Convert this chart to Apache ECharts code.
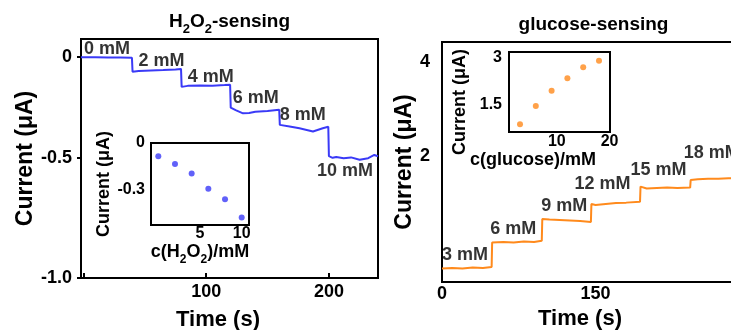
<!DOCTYPE html>
<html>
<head>
<meta charset="utf-8">
<script src="https://cdn.jsdelivr.net/npm/echarts@6/dist/echarts.min.js"></script>
<style>
  html, body { margin: 0; padding: 0; background: #fff; }
  #chart { width: 731px; height: 330px; }
</style>
</head>
<body>
<div id="chart"></div>
<script>
// H2O2 trace (time s, current uA)
const h2o2Time = [-2, 10, 20, 30, 39.5, 40, 45, 55, 65, 75, 79.5, 80, 85, 95, 105, 115, 119.5,
  120, 124, 130, 135, 140, 150, 159.5, 160, 168, 176, 187, 195, 199.5,
  200, 203, 206, 212, 218, 225, 232, 237, 240];
const h2o2Current = [0, 0, -0.001, -0.002, -0.003, -0.072, -0.068, -0.066, -0.064, -0.061, -0.058,
  -0.147, -0.142, -0.140, -0.141, -0.138, -0.136,
  -0.25, -0.262, -0.278, -0.276, -0.27, -0.266, -0.26,
  -0.335, -0.343, -0.352, -0.368, -0.352, -0.344,
  -0.49, -0.498, -0.494, -0.5, -0.496, -0.508, -0.5, -0.484, -0.49];
const h2o2Conc = [0, 2, 4, 6, 8, 10];
const h2o2StepTime = [-2, 40, 80, 120, 160, 200];
const h2o2StepLevel = [0, -0.072, -0.147, -0.25, -0.335, -0.49];
const h2o2InsetCurrent = [-0.085, -0.135, -0.197, -0.296, -0.364, -0.482];

// glucose trace
const gluTime = [0, 10, 20, 30, 40, 48.5, 49, 60, 70, 80, 90, 97.5, 98, 105, 115, 125, 135, 145.5,
  146, 150, 160, 170, 180, 193.5, 194, 200, 210, 220, 230, 242.5, 243, 250, 260, 270, 280, 290, 300];
const gluCurrent = [-0.39, -0.38, -0.39, -0.37, -0.38, -0.36, 0.16, 0.17, 0.16, 0.18, 0.17, 0.2,
  0.66, 0.65, 0.64, 0.63, 0.62, 0.6, 0.98, 0.96, 0.98, 1.0, 1.01, 1.03,
  1.35, 1.31, 1.32, 1.33, 1.32, 1.33, 1.49, 1.51, 1.52, 1.52, 1.53, 1.53, 1.54];
const gluConc = [3, 6, 9, 12, 15, 18];
const gluStepTime = [0, 49, 98, 146, 194, 243];
const gluStepLevel = [-0.39, 0.16, 0.66, 0.98, 1.35, 1.49];
const gluInsetCurrent = [0.86, 1.45, 1.93, 2.33, 2.68, 2.89];

// tick labels
const leftYTicks = [-1.093, -0.5, 0];
const leftYTickText = ['-1.0', '-0.5', '0'];
const leftXTicks = [0, 100, 200];
const leftXLabels = [100, 200];
const rightYLabels = [2, 4];
const rightXLabels = [0, 150];
const h2o2InsetYLabels = [-0.3, 0];
const h2o2InsetXLabels = [5, 10];
const gluInsetYLabels = [1.5, 3];
const gluInsetXLabels = [10, 20];

const BLUE = '#3a3af7';
const ORANGE = '#ff8a1c';
const FONT = "'Liberation Sans', Arial, sans-serif";

const zip = (a, b) => a.map((v, i) => [v, b[i]]);

// pixel offsets of the "x mM" tags from each step corner
const h2o2TagOffset = [[3, -8], [6, -11], [6, -10], [2, -10], [0, -10], [-12, 15]];
const gluTagOffset = [[0, -13], [-2, -14], [-1, -13], [-17, -20], [-10, -17], [-7, -27]];

const tagData = (times, levels, conc, offs) => times.map((t, i) => ({
  value: [t, levels[i]],
  name: conc[i] + ' mM',
  label: { position: offs[i] }
}));

const gridBox = { show: true, borderColor: '#000', borderWidth: 2, backgroundColor: 'transparent', outerBoundsMode: 'none', containLabel: false };
const tickFont = { color: '#000', fontFamily: FONT, fontWeight: 'bold', fontSize: 18 };
const insetFont = { color: '#000', fontFamily: FONT, fontWeight: 'bold', fontSize: 16 };
const nameFont = { color: '#000', fontFamily: FONT, fontWeight: 'bold', fontSize: 22 };
const insetNameFont = { color: '#000', fontFamily: FONT, fontWeight: 'bold', fontSize: 18 };
const tagFont = { color: '#000', fontFamily: FONT, fontWeight: 'bold', fontSize: 18, textBorderWidth: 0 };
const subRich = (size, sub) => ({
  n: { fontFamily: FONT, fontWeight: 'bold', fontSize: size, lineHeight: size + 1, verticalAlign: 'top', color: '#000' },
  s: { fontFamily: FONT, fontWeight: 'bold', fontSize: sub, lineHeight: size + 5, verticalAlign: 'bottom', color: '#000' }
});
const plainAxis = { axisLine: { show: false, onZero: false }, splitLine: { show: false } };

const chart = echarts.init(document.getElementById('chart'));

const option = {
  animation: false,
  backgroundColor: '#fff',
  title: [
    {
      text: '{n|H}{s|2}{n|O}{s|2}{n|-sensing}',
      left: 229.5, top: 12, textAlign: 'center', padding: 0,
      textStyle: { rich: subRich(19, 13) }
    },
    {
      text: 'glucose-sensing',
      left: 593.5, top: 15, textAlign: 'center', padding: 0,
      textStyle: { fontFamily: FONT, fontWeight: 'bold', fontSize: 19, lineHeight: 20, color: '#000' }
    }
  ],
  grid: [
    { left: 81, top: 39, width: 297, height: 239, ...gridBox },
    { left: 151, top: 143, width: 98, height: 82, ...gridBox, backgroundColor: '#fff' },
    { left: 442, top: 42, width: 307, height: 240, ...gridBox },
    { left: 509, top: 52, width: 101, height: 80, ...gridBox, backgroundColor: '#fff' }
  ],
  xAxis: [
    {
      gridIndex: 0, type: 'value', min: -2, max: 240, ...plainAxis,
      axisTick: { show: true, inside: true, length: 5, customValues: leftXTicks, lineStyle: { color: '#000', width: 2 } },
      axisLabel: { customValues: leftXLabels, margin: 5, ...tickFont },
      name: 'Time (s)', nameLocation: 'middle', nameGap: 31,
      nameTextStyle: { ...nameFont, padding: [0, 23, 0, 0] }
    },
    {
      gridIndex: 1, type: 'value', min: -0.875, max: 10.875, ...plainAxis, axisTick: { show: false },
      axisLabel: { customValues: h2o2InsetXLabels, margin: 1, ...insetFont },
      name: '{n|c(H}{s|2}{n|O}{s|2}{n|)/mM}', nameLocation: 'middle', nameGap: 17,
      nameTextStyle: { rich: subRich(18, 12) }
    },
    {
      gridIndex: 2, type: 'value', min: 0, max: 300, ...plainAxis, axisTick: { show: false },
      axisLabel: { customValues: rightXLabels, margin: 3, alignMinLabel: 'center', ...tickFont },
      name: 'Time (s)', nameLocation: 'middle', nameGap: 16,
      nameTextStyle: { ...nameFont, padding: [0, 31, 0, 0] }
    },
    {
      gridIndex: 3, type: 'value', min: 0.91, max: 20.09, ...plainAxis, axisTick: { show: false },
      axisLabel: { customValues: gluInsetXLabels, margin: 2, alignMaxLabel: 'center', ...insetFont },
      name: 'c(glucose)/mM', nameLocation: 'middle', nameGap: 10,
      nameTextStyle: { ...insetNameFont, padding: [0, 53, 0, 0] }
    }
  ],
  yAxis: [
    {
      gridIndex: 0, type: 'value', min: -1.093, max: 0.09, ...plainAxis,
      axisTick: { show: true, inside: false, length: 4, customValues: leftYTicks, lineStyle: { color: '#000', width: 2 } },
      axisLabel: {
        customValues: leftYTicks, margin: 9, ...tickFont,
        verticalAlignMinLabel: 'middle', verticalAlignMaxLabel: 'middle',
        formatter: v => leftYTickText[leftYTicks.indexOf(v)]
      },
      name: 'Current (μA)', nameLocation: 'middle', nameGap: 41,
      nameTextStyle: { ...nameFont, fontSize: 23 }
    },
    {
      gridIndex: 1, type: 'value', min: -0.53, max: 0, ...plainAxis, axisTick: { show: false },
      axisLabel: { customValues: h2o2InsetYLabels, margin: 6, verticalAlignMaxLabel: 'middle', ...insetFont },
      name: 'Current (μA)', nameLocation: 'middle', nameGap: 36,
      nameTextStyle: insetNameFont
    },
    {
      gridIndex: 2, type: 'value', min: -0.68, max: 4.43, ...plainAxis, axisTick: { show: false },
      axisLabel: { customValues: rightYLabels, margin: 12, ...tickFont },
      name: 'Current (μA)', nameLocation: 'middle', nameGap: 25,
      nameTextStyle: { ...nameFont, fontSize: 23 }
    },
    {
      gridIndex: 3, type: 'value', min: 0.616, max: 3.17, ...plainAxis, axisTick: { show: false },
      axisLabel: { customValues: gluInsetYLabels, margin: 7, ...insetFont },
      name: 'Current (μA)', nameLocation: 'middle', nameGap: 40,
      nameTextStyle: { ...insetNameFont, padding: [0, 20, 0, 0] }
    }
  ],
  series: [
    {
      type: 'line', xAxisIndex: 0, yAxisIndex: 0,
      data: zip(h2o2Time, h2o2Current), showSymbol: false,
      lineStyle: { color: BLUE, width: 2 }
    },
    {
      type: 'scatter', xAxisIndex: 0, yAxisIndex: 0, symbolSize: 0, silent: true,
      data: tagData(h2o2StepTime, h2o2StepLevel, h2o2Conc, h2o2TagOffset),
      label: { show: true, formatter: '{b}', align: 'left', verticalAlign: 'middle', ...tagFont }
    },
    {
      type: 'scatter', xAxisIndex: 1, yAxisIndex: 1, symbolSize: 6,
      data: zip(h2o2Conc, h2o2InsetCurrent), itemStyle: { color: BLUE }
    },
    {
      type: 'line', xAxisIndex: 2, yAxisIndex: 2,
      data: zip(gluTime, gluCurrent), showSymbol: false,
      lineStyle: { color: ORANGE, width: 2 }
    },
    {
      type: 'scatter', xAxisIndex: 2, yAxisIndex: 2, symbolSize: 0, silent: true,
      data: tagData(gluStepTime, gluStepLevel, gluConc, gluTagOffset),
      label: { show: true, formatter: '{b}', align: 'left', verticalAlign: 'middle', ...tagFont }
    },
    {
      type: 'scatter', xAxisIndex: 3, yAxisIndex: 3, symbolSize: 6,
      data: zip(gluConc, gluInsetCurrent), itemStyle: { color: ORANGE }
    }
  ]
};

chart.setOption(option);
</script>
</body>
</html>
